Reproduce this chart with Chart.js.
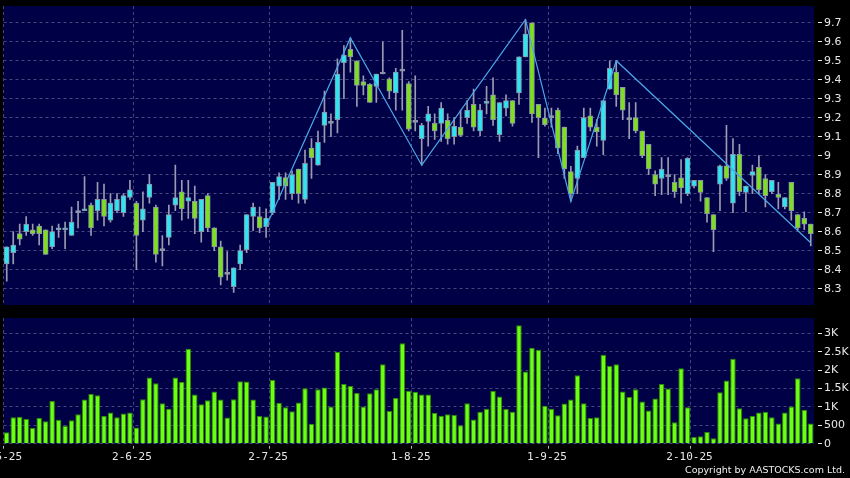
<!DOCTYPE html>
<html>
<head>
<meta charset="utf-8">
<script src="https://cdn.jsdelivr.net/npm/chart.js@4.4.1/dist/chart.umd.min.js"></script>
<style>
  html, body { margin: 0; padding: 0; background: #000; }
  #wrap { position: relative; width: 850px; height: 478px; background: #000; overflow: hidden; }
  #priceChart { position: absolute; left: 0; top: 0; }
  #volumeChart { position: absolute; left: 0; top: 312px; }
  #copyright {
    position: absolute; right: 5px; top: 464px;
    color: #f0f0f0; font: 9.5px "DejaVu Sans", sans-serif; white-space: nowrap;
  }
</style>
</head>
<body>
<div id="wrap">
  <canvas id="priceChart" width="850" height="310"></canvas>
  <canvas id="volumeChart" width="850" height="166"></canvas>
  <div id="copyright">Copyright by AASTOCKS.com Ltd.</div>
</div>
<script>
// ---- data (daily candles, May to Oct 2025) ----
const priceTicks = [8.3, 8.4, 8.5, 8.6, 8.7, 8.8, 8.9, 9.0, 9.1, 9.2, 9.3, 9.4, 9.5, 9.6, 9.7];
const volumeTicks = [0, 500, 1000, 1500, 2000, 2500, 3000];
const monthTickIndex = [0, 20, 41, 63, 84, 106];
const monthTickLabels = ['2-5-25', '2-6-25', '2-7-25', '1-8-25', '1-9-25', '2-10-25'];

const opens = [
  8.43, 8.49, 8.59, 8.60, 8.61, 8.63, 8.61, 8.52, 8.61, 8.61,
  8.58, 8.70, 8.71, 8.74, 8.71, 8.77, 8.66, 8.71, 8.70, 8.78,
  8.75, 8.66, 8.78, 8.73, 8.50, 8.57, 8.74, 8.81, 8.76, 8.76,
  8.60, 8.79, 8.62, 8.52, 8.375, 8.31, 8.43, 8.505, 8.68, 8.68,
  8.626, 8.70, 8.84, 8.885, 8.80, 8.93, 8.77, 9.04, 8.95, 9.16,
  9.17, 9.19, 9.49, 9.56, 9.50, 9.39, 9.375, 9.365, 9.43, 9.405,
  9.33, 9.445, 9.38, 9.175, 9.09, 9.18, 9.17, 9.17, 9.186, 9.10,
  9.15, 9.20, 9.27, 9.13, 9.275, 9.32, 9.11, 9.25, 9.29, 9.33,
  9.52, 9.70, 9.27, 9.198, 9.20, 9.24, 9.15, 8.916, 8.88, 8.99,
  9.21, 9.15, 9.08, 9.35, 9.44, 9.36, 9.19, 9.20, 9.13, 9.06,
  8.90, 8.88, 8.89, 8.86, 8.884, 8.80, 8.84, 8.87, 8.78, 8.69,
  8.85, 8.947, 8.75, 9.007, 8.807, 8.896, 8.94, 8.88, 8.81, 8.796,
  8.73, 8.86, 8.69, 8.67, 8.64
];
const highs = [
  8.52, 8.60, 8.64, 8.68, 8.64, 8.64, 8.61, 8.63, 8.64, 8.65,
  8.73, 8.76, 8.89, 8.75, 8.86, 8.85, 8.80, 8.80, 8.80, 8.87,
  8.76, 8.81, 8.90, 8.74, 8.58, 8.74, 8.95, 8.87, 8.87, 8.84,
  8.77, 8.80, 8.62, 8.55, 8.495, 8.41, 8.53, 8.69, 8.75, 8.73,
  8.72, 8.86, 8.91, 8.91, 8.92, 8.93, 9.03, 9.09, 9.13, 9.34,
  9.22, 9.51, 9.58, 9.62, 9.50, 9.42, 9.38, 9.43, 9.60, 9.41,
  9.46, 9.66, 9.39, 9.42, 9.17, 9.26, 9.22, 9.28, 9.22, 9.20,
  9.24, 9.29, 9.35, 9.27, 9.365, 9.41, 9.28, 9.32, 9.29, 9.52,
  9.716, 9.70, 9.27, 9.25, 9.25, 9.25, 9.15, 8.944, 9.05, 9.25,
  9.25, 9.19, 9.29, 9.50, 9.50, 9.36, 9.28, 9.28, 9.13, 9.06,
  8.92, 8.99, 8.99, 8.90, 8.98, 8.99, 8.87, 8.87, 8.78, 8.69,
  8.95, 9.16, 9.09, 9.06, 8.84, 8.95, 9.00, 8.90, 8.87, 8.86,
  8.78, 8.86, 8.69, 8.705, 8.64
];
const lows = [
  8.34, 8.43, 8.53, 8.58, 8.58, 8.53, 8.48, 8.51, 8.57, 8.51,
  8.58, 8.62, 8.71, 8.58, 8.66, 8.63, 8.65, 8.70, 8.68, 8.77,
  8.40, 8.60, 8.75, 8.44, 8.42, 8.53, 8.71, 8.66, 8.67, 8.59,
  8.545, 8.60, 8.50, 8.32, 8.345, 8.28, 8.40, 8.49, 8.605, 8.595,
  8.57, 8.69, 8.77, 8.77, 8.77, 8.75, 8.75, 8.88, 8.95, 9.07,
  9.10, 9.12, 9.30, 9.44, 9.26, 9.32, 9.28, 9.28, 9.43, 9.30,
  9.24, 9.24, 9.13, 9.13, 8.95, 9.05, 9.085, 9.075, 9.06, 9.06,
  9.10, 9.17, 9.13, 9.105, 9.22, 9.16, 9.075, 9.21, 9.155, 9.27,
  9.52, 9.175, 8.99, 9.155, 9.15, 9.01, 8.88, 8.76, 8.80, 8.99,
  9.13, 9.05, 9.005, 9.35, 9.26, 9.19, 9.09, 9.12, 8.99, 8.90,
  8.79, 8.795, 8.795, 8.78, 8.75, 8.79, 8.83, 8.76, 8.65, 8.495,
  8.71, 8.87, 8.70, 8.79, 8.705, 8.80, 8.80, 8.73, 8.80, 8.72,
  8.72, 8.66, 8.61, 8.61, 8.525
];
const closes = [
  8.52, 8.53, 8.56, 8.64, 8.59, 8.59, 8.48, 8.60, 8.62, 8.62,
  8.65, 8.70, 8.72, 8.62, 8.77, 8.68, 8.75, 8.77, 8.79, 8.82,
  8.58, 8.72, 8.85, 8.48, 8.50, 8.69, 8.78, 8.72, 8.78, 8.67,
  8.77, 8.62, 8.52, 8.36, 8.375, 8.41, 8.50, 8.69, 8.73, 8.62,
  8.672, 8.86, 8.89, 8.84, 8.90, 8.80, 8.96, 8.99, 9.07, 9.23,
  9.17, 9.43, 9.53, 9.52, 9.37, 9.37, 9.28, 9.43, 9.43, 9.34,
  9.44, 9.445, 9.14, 9.175, 9.16, 9.22, 9.13, 9.25, 9.09, 9.155,
  9.107, 9.24, 9.15, 9.24, 9.285, 9.19, 9.28, 9.29, 9.17, 9.52,
  9.64, 9.22, 9.20, 9.163, 9.20, 9.04, 8.93, 8.80, 9.03, 9.20,
  9.15, 9.125, 9.29, 9.46, 9.32, 9.24, 9.19, 9.13, 9.00, 8.93,
  8.85, 8.93, 8.89, 8.81, 8.83, 8.986, 8.87, 8.807, 8.695, 8.61,
  8.947, 8.88, 9.007, 8.81, 8.84, 8.916, 8.82, 8.79, 8.87, 8.78,
  8.78, 8.71, 8.62, 8.64, 8.59
];
const volumes = [
  310, 720, 730, 670, 430, 700, 610, 1160, 650, 480,
  640, 800, 1200, 1350, 1320, 750, 850, 720, 820, 850,
  440, 1210, 1800, 1640, 1100, 950, 1800, 1680, 2580, 1340,
  1070, 1180, 1420, 1200, 710, 1210, 1700, 1690, 1200, 750,
  740, 1730, 1110, 990, 880, 1120, 1510, 540, 1480, 1530,
  1010, 2490, 1620, 1570, 1380, 1010, 1370, 1480, 2160, 890,
  1240, 2730, 1440, 1410, 1340, 1340, 840, 760, 800, 780,
  500, 1100, 660, 870, 950, 1430, 1280, 940, 870, 3220,
  1960, 2610, 2550, 1030, 950, 770, 1090, 1200, 1860, 1100,
  700, 720, 2420, 2110, 2160, 1420, 1270, 1480, 1150, 900,
  1230, 1620, 1500, 580, 2050, 990, 180, 200, 320, 145,
  1400, 1720, 2310, 960, 690, 750, 850, 860, 720, 550,
  850, 1010, 1780, 920, 550
];
// turning points of the zigzag overlay (candle index, price)
const zigzagIndex = [40, 53, 64, 80, 87, 94, 124];
const zigzagValue = [8.626, 9.62, 8.95, 9.716, 8.758, 9.50, 8.542];

// ---- styling ----
const NAVY = '#000046';
const GRID = '#46467e';
const TEXT = '#e8e8e8';
const UP = '#2ee6f2';
const DOWN = '#7ee01c';
const FLAT = '#9aa0b8';
const EDGE = '#8a93a8';
const WICK = '#9a9ab0';
const ZIGZAG = '#4aa6e8';
const VOL_FILL = '#6cff14';
const VOL_EDGE = '#2e8a00';
const CHART_RIGHT_AXIS = 36;

const days = opens.map((_, i) => i);
const isMonthStart = (i) => monthTickIndex.includes(i);

const candleColor = opens.map((o, i) => (closes[i] > o ? UP : closes[i] < o ? DOWN : FLAT));
const zigzagData = days.map(() => null);
zigzagIndex.forEach((d, k) => { zigzagData[d] = zigzagValue[k]; });

const plotBackground = {
  id: 'plotBackground',
  beforeDraw(chart) {
    const { ctx, chartArea: a } = chart;
    ctx.save();
    ctx.fillStyle = NAVY;
    ctx.fillRect(a.left, a.top, a.right - a.left, a.bottom - a.top);
    ctx.restore();
  },
};

const axisFont = { family: 'DejaVu Sans', size: 11 };

function rightAxis(min, max, tickValues, format) {
  return {
    position: 'right',
    min,
    max,
    afterBuildTicks: (scale) => { scale.ticks = tickValues.map((v) => ({ value: v })); },
    afterFit: (scale) => { scale.width = CHART_RIGHT_AXIS; scale.paddingTop = 0; scale.paddingBottom = 0; },
    ticks: { color: TEXT, font: axisFont, padding: 2, callback: format },
    grid: { color: GRID, lineWidth: 1, tickColor: TEXT, tickLength: 8, tickBorderDash: [0, 4, 4, 0] },
    border: { display: false, dash: [3, 3] },
  };
}

const monthGrid = (ctx) => (isMonthStart(ctx.index) ? GRID : 'rgba(0,0,0,0)');

/* -----------------------------
   Price panel
------------------------------ */

new Chart(document.getElementById('priceChart'), {
  type: 'bar',
  data: {
    labels: days,
    datasets: [
      {
        type: 'line',
        data: zigzagData,
        spanGaps: true,
        borderColor: ZIGZAG,
        borderWidth: 1.2,
        pointRadius: 0,
        tension: 0,
        order: 0,
      },
      {
        data: opens.map((o, i) => [o, closes[i]]),
        backgroundColor: candleColor,
        borderColor: EDGE,
        borderWidth: 1,
        borderSkipped: false,
        barThickness: 5,
        minBarLength: 2,
        grouped: false,
        order: 1,
      },
      {
        data: lows.map((l, i) => [l, highs[i]]),
        backgroundColor: WICK,
        borderWidth: 0,
        barThickness: 1,
        grouped: false,
        order: 2,
      },
    ],
  },
  options: {
    responsive: false,
    animation: false,
    devicePixelRatio: 1,
    layout: { padding: { left: 3.5, right: 0, top: 6, bottom: 5 } },
    plugins: { legend: { display: false }, tooltip: { enabled: false } },
    scales: {
      x: {
        offset: true,
        grid: { offset: true, color: monthGrid, drawTicks: false },
        border: { display: false, dash: [3, 3] },
        ticks: { display: false },
        afterFit: (scale) => { scale.height = 0; scale.paddingLeft = 0; scale.paddingRight = 0; },
      },
      y: rightAxis(8.214, 9.788, priceTicks, (v) => String(+v.toFixed(1))),
    },
  },
  plugins: [plotBackground],
});

/* -----------------------------
   Volume panel
------------------------------ */

new Chart(document.getElementById('volumeChart'), {
  type: 'bar',
  data: {
    labels: days,
    datasets: [
      {
        data: volumes,
        backgroundColor: VOL_FILL,
        borderColor: VOL_EDGE,
        borderWidth: { left: 1, right: 1, top: 1, bottom: 0 },
        borderSkipped: false,
        barPercentage: 0.85,
        categoryPercentage: 1,
      },
    ],
  },
  options: {
    responsive: false,
    animation: false,
    devicePixelRatio: 1,
    layout: { padding: { left: 3.5, right: 0, top: 6, bottom: 0 } },
    plugins: { legend: { display: false }, tooltip: { enabled: false } },
    scales: {
      x: {
        offset: true,
        grid: {
          offset: true,
          color: monthGrid,
          tickColor: (ctx) => (isMonthStart(ctx.index) ? '#bbbbbb' : 'rgba(0,0,0,0)'),
          tickLength: 5,
          tickBorderDash: [0, 2, 3, 0],
        },
        border: { display: false, dash: [3, 3] },
        ticks: {
          autoSkip: false,
          maxRotation: 0,
          color: TEXT,
          font: { family: 'DejaVu Sans Mono', size: 11 },
          padding: 2,
          labelOffset: -4.5,
          callback: (value, index) => {
            const k = monthTickIndex.indexOf(index);
            return k < 0 ? '' : monthTickLabels[k];
          },
        },
        afterFit: (scale) => { scale.height = 34.3; scale.paddingLeft = 0; scale.paddingRight = 0; },
      },
      y: rightAxis(0, 3416, volumeTicks, (v) => (v >= 1000 ? `${v / 1000}K` : String(v))),
    },
  },
  plugins: [plotBackground],
});
</script>
</body>
</html>
